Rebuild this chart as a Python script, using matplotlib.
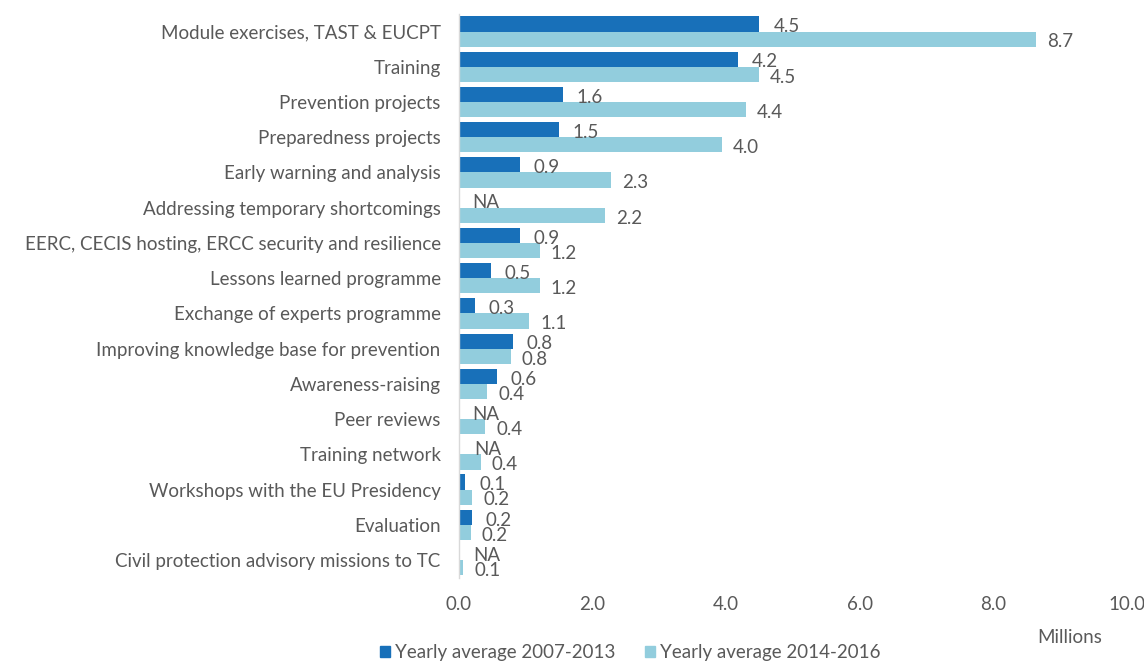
import matplotlib
matplotlib.use("Agg")
import matplotlib.pyplot as plt
from matplotlib.patches import Patch

plt.rcParams['font.family'] = ['Lato', 'DejaVu Sans']

categories = [
    "Module exercises, TAST & EUCPT",
    "Training",
    "Prevention projects",
    "Preparedness projects",
    "Early warning and analysis",
    "Addressing temporary shortcomings",
    "EERC, CECIS hosting, ERCC security and resilience",
    "Lessons learned programme",
    "Exchange of experts programme",
    "Improving knowledge base for prevention",
    "Awareness-raising",
    "Peer reviews",
    "Training network",
    "Workshops with the EU Presidency",
    "Evaluation",
    "Civil protection advisory missions to TC",
]
avg_2007_2013 = [4.5, 4.18, 1.56, 1.5, 0.91, 0.0, 0.91, 0.48, 0.24, 0.81, 0.57, 0.0, 0.02, 0.1, 0.2, 0.01]
labels_2007_2013 = ["4.5", "4.2", "1.6", "1.5", "0.9", "NA", "0.9", "0.5", "0.3", "0.8", "0.6", "NA", "NA", "0.1", "0.2", "NA"]
avg_2014_2016 = [8.64, 4.49, 4.3, 3.94, 2.28, 2.19, 1.21, 1.21, 1.05, 0.78, 0.43, 0.4, 0.33, 0.2, 0.18, 0.07]
labels_2014_2016 = ["8.7", "4.5", "4.4", "4.0", "2.3", "2.2", "1.2", "1.2", "1.1", "0.8", "0.4", "0.4", "0.4", "0.2", "0.2", "0.1"]
series_names = ["Yearly average 2007-2013", "Yearly average 2014-2016"]
x_ticks = [0, 2, 4, 6, 8, 10]

dark = "#1870b9"
light = "#92cddd"
txt = "#595959"
fs = 13.5

fig = plt.figure(figsize=(11.44, 6.61), dpi=100)
ax = fig.add_axes([0.401, 0.126, 0.584, 0.853])

h = 0.43
ys = list(range(len(categories)))
b1 = ax.barh([y - h / 2 for y in ys], avg_2007_2013, height=h, color=dark)
b2 = ax.barh([y + h / 2 for y in ys], avg_2014_2016, height=h, color=light)

for bar, lab in zip(b1, labels_2007_2013):
    ax.annotate(lab, (bar.get_width(), bar.get_y() + bar.get_height() / 2),
                xytext=(10, -2), textcoords="offset points", va="center", ha="left",
                fontsize=fs, color=txt)
for bar, lab in zip(b2, labels_2014_2016):
    ax.annotate(lab, (bar.get_width(), bar.get_y() + bar.get_height() / 2),
                xytext=(8, -2), textcoords="offset points", va="center", ha="left",
                fontsize=fs, color=txt)

ax.set_xlim(0, 10)
ax.set_ylim(len(categories) - 0.5, -0.5)
ax.set_yticks(ys)
ax.set_yticklabels(categories, fontsize=fs, color=txt)
ax.set_xticks(x_ticks)
ax.set_xticklabels([f"{v:.1f}" for v in x_ticks], fontsize=fs, color=txt)
ax.tick_params(axis="both", length=0)
ax.tick_params(axis="x", pad=13)
ax.tick_params(axis="y", pad=13)
for s in ["top", "right", "bottom"]:
    ax.spines[s].set_visible(False)
ax.spines["left"].set_color("#d9d9d9")
ax.spines["left"].set_linewidth(1)

fig.text(0.907, 0.036, "Millions", fontsize=fs, color=txt, ha="left", va="center")

handles = [Patch(color=dark), Patch(color=light)]
fig.legend(handles, series_names, loc="center left", bbox_to_anchor=(0.317, 0.013),
           ncol=2, frameon=False, fontsize=fs, labelcolor=txt,
           handlelength=0.55, handleheight=0.55, handletextpad=0.25, columnspacing=1.6)

fig.savefig("out.png", dpi=100)
